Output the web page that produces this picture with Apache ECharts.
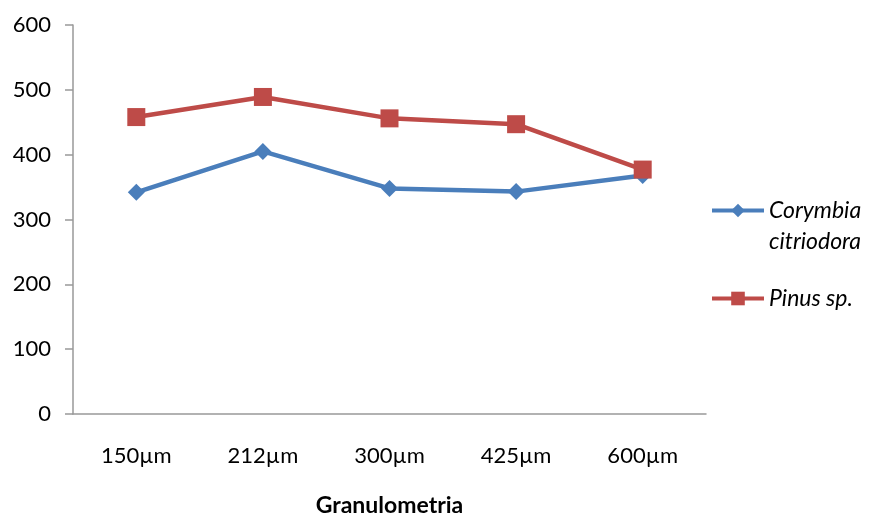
<!DOCTYPE html>
<html><head><meta charset="utf-8">
<script src="https://cdn.jsdelivr.net/npm/echarts@6/dist/echarts.min.js"></script>
<style>html,body{margin:0;padding:0;background:#fff}#c{width:869px;height:515px}</style>
</head><body><div id="c"></div>
<script>
const categories = ['150µm','212µm','300µm','425µm','600µm'];
const corymbia = [342, 405, 348, 343, 368];
const pinus = [458, 489, 456, 447, 377];
const yTicks = {min: 0, max: 600, interval: 100};
const seriesNames = ['Corymbia citriodora', 'Pinus sp.'];
const legendLabels = {'Corymbia citriodora': '\nCorymbia\ncitriodora', 'Pinus sp.': 'Pinus sp.'};
const xName = 'Granulometria';

const chart = echarts.init(document.getElementById('c'));
chart.setOption({
  animation: false,
  backgroundColor: '#fff',
  grid: {left: 73, right: 163, top: 25, bottom: 101, containLabel: false, outerBoundsMode: 'none'},
  xAxis: {
    type: 'category', data: categories, boundaryGap: true,
    name: xName, nameLocation: 'middle', nameGap: 80,
    nameTextStyle: {fontFamily: 'Lato', fontSize: 23, fontWeight: 'bold', color: '#000'},
    axisLine: {lineStyle: {color: '#999999', width: 1.5}},
    axisTick: {show: false},
    axisLabel: {fontFamily: 'Lato', fontSize: 22, color: '#000', margin: 31}
  },
  yAxis: {
    type: 'value', min: yTicks.min, max: yTicks.max, interval: yTicks.interval,
    splitLine: {show: false},
    axisLine: {show: true, lineStyle: {color: '#999999', width: 1.5}},
    axisTick: {show: true, length: 8, lineStyle: {color: '#999999', width: 1.5}},
    axisLabel: {fontFamily: 'Lato', fontSize: 22, color: '#000', margin: 22}
  },
  legend: {
    orient: 'vertical', left: 710, top: 164, itemWidth: 52, itemHeight: 17, itemGap: 26,
    padding: 0,
    lineStyle: {width: 4},
    formatter: name => legendLabels[name],
    textStyle: {fontFamily: 'Lato', fontSize: 23, fontStyle: 'italic', color: '#000', lineHeight: 31},
    data: [seriesNames[0], seriesNames[1]]
  },
  series: [
    {name: seriesNames[0], type: 'line', data: corymbia, symbol: 'diamond', symbolSize: 17,
     itemStyle: {color: '#4A7EBB'}, lineStyle: {color: '#4A7EBB', width: 4.5}},
    {name: seriesNames[1], type: 'line', data: pinus, symbol: 'rect', symbolSize: 18,
     itemStyle: {color: '#BE4B48'}, lineStyle: {color: '#BE4B48', width: 4.5}}
  ]
});
</script></body></html>
